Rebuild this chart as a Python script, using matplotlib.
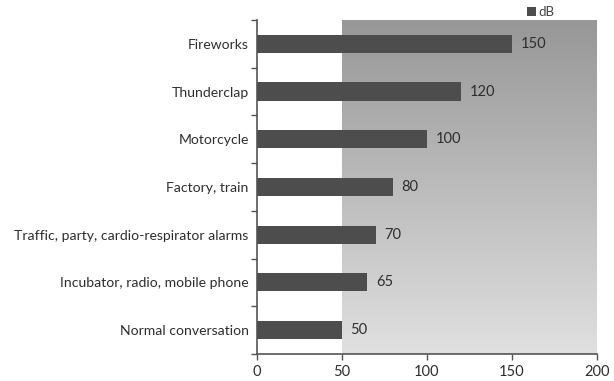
import numpy as np
import matplotlib.pyplot as plt
from matplotlib.colors import LinearSegmentedColormap

# datos
categories = ["Normal conversation", "Incubator, radio, mobile phone",
              "Traffic, party, cardio-respirator alarms", "Factory, train",
              "Motorcycle", "Thunderclap", "Fireworks"]
db_values = [50, 65, 70, 80, 100, 120, 150]
x_ticks = [0, 50, 100, 150, 200]

plt.rcParams['font.family'] = ['Lato', 'DejaVu Sans']

fig = plt.figure(figsize=(6.14, 3.81), dpi=100)
ax = fig.add_axes([0.4186, 0.071, 0.5534, 0.8765])

y = np.arange(len(categories))
ax.set_xlim(0, 200)
ax.set_ylim(-0.5, len(categories) - 0.5)

# zona gris con degradado (50-200)
cmap = LinearSegmentedColormap.from_list("fondo", ["#e0e0e0", "#979797"])
grad = np.linspace(0, 1, 256).reshape(-1, 1)
ax.imshow(grad, cmap=cmap, origin="lower", aspect="auto",
          extent=[50, 200, -0.5, len(categories) - 0.5], zorder=0)

bars = ax.barh(y, db_values, height=0.38, color="#4d4d4d", label="dB", zorder=2)
for yi, v in zip(y, db_values):
    ax.text(v + 5, yi, str(v), va="center", ha="left", fontsize=10.5, color="#2e2e2e")

ax.set_yticks(y)
ax.set_yticklabels(categories, fontsize=10.1, color="#2e2e2e")
ax.set_yticks(np.arange(-0.5, len(categories), 1), minor=True)
ax.tick_params(axis="y", which="major", length=0, pad=6)
ax.tick_params(axis="y", which="minor", length=4, width=1, color="#555555", direction="out")
ax.set_xticks(x_ticks)
ax.tick_params(axis="x", length=4, width=1, color="#555555", labelsize=10.5, labelcolor="#2e2e2e", pad=4)

for s in ["top", "right"]:
    ax.spines[s].set_visible(False)
for s in ["left", "bottom"]:
    ax.spines[s].set_color("#555555")
    ax.spines[s].set_linewidth(1.2)

ax.legend(loc="lower right", bbox_to_anchor=(0.895, 0.985), frameon=False, fontsize=9.5,
          handlelength=0.7, handleheight=0.7, handletextpad=0.2, borderpad=0,
          labelcolor="#444444")

fig.savefig("out.png", dpi=100)
